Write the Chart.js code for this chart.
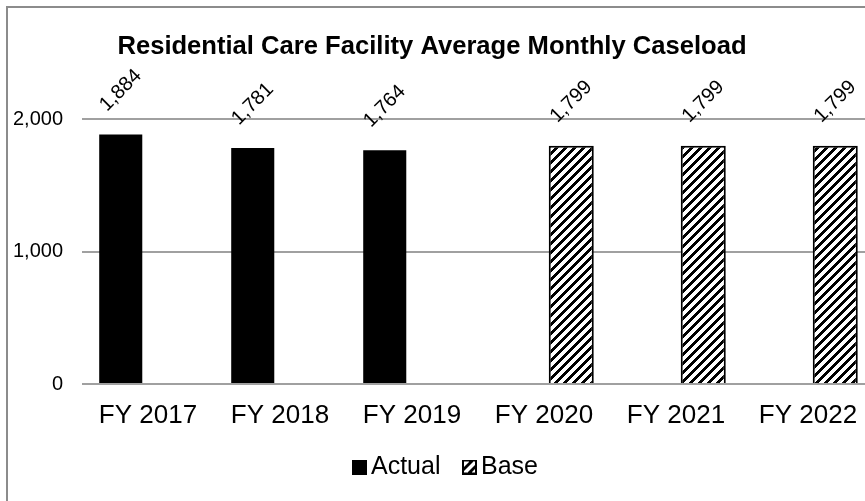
<!DOCTYPE html>
<html><head><meta charset="utf-8">
<script src="https://cdn.jsdelivr.net/npm/chart.js@4/dist/chart.umd.min.js"></script>
<style>
html,body{margin:0;padding:0;background:#fff;overflow:hidden;width:865px;height:501px;}
#wrap{position:absolute;left:0;top:0;width:880px;height:501px;}
#frame{position:absolute;left:6px;top:6px;width:900px;height:600px;border-left:2px solid #8c8c8c;border-top:2px solid #8c8c8c;pointer-events:none;}
</style></head><body>
<div id="wrap"><canvas id="c" width="880" height="501" style="width:880px;height:501px"></canvas></div>
<div id="frame"></div>
<script>
const chartTitle = 'Residential Care Facility Average Monthly Caseload';
const categories = ['FY 2017', 'FY 2018', 'FY 2019', 'FY 2020', 'FY 2021', 'FY 2022'];
const actualValues = [1884, 1781, 1764, null, null, null];
const baseValues = [null, null, null, 1799, 1799, 1799];
const yTickValues = [0, 1000, 2000];

const FONT = "'Liberation Sans', Arial, sans-serif";
const canvas = document.getElementById('c');
const ctx = canvas.getContext('2d');

function hatchTile() {
  const t = document.createElement('canvas');
  t.width = 9; t.height = 9;
  const g = t.getContext('2d');
  g.fillStyle = '#fff'; g.fillRect(0, 0, 9, 9);
  g.fillStyle = '#000';
  for (let y = 0; y < 9; y++) for (let x = 0; x < 9; x++) {
    if (((x + y) % 9) < 4) g.fillRect(x, y, 1, 1);
  }
  return t;
}
const tile = hatchTile();
const hatch = ctx.createPattern(tile, 'repeat');

function legendIcon(kind) {
  const c = document.createElement('canvas');
  c.width = 19; c.height = 15;
  const g = c.getContext('2d');
  g.translate(4, 0);
  if (kind === 'solid') {
    g.fillStyle = '#000'; g.fillRect(0, 0, 15, 15);
  } else {
    g.fillStyle = g.createPattern(tile, 'repeat');
    g.fillRect(0, 0, 15, 15);
    g.strokeStyle = '#000'; g.lineWidth = 2;
    g.strokeRect(1, 1, 13, 13);
  }
  return c;
}
const legendIcons = [legendIcon('solid'), legendIcon('hatch')];

const fmt = v => v.toLocaleString('en-US');

const labelPlugin = {
  id: 'rotLabels',
  afterDatasetsDraw(chart) {
    const c = chart.ctx;
    chart.data.datasets.forEach((ds, di) => {
      const meta = chart.getDatasetMeta(di);
      meta.data.forEach((el, i) => {
        const v = ds.data[i];
        if (v === null || v === undefined) return;
        c.save();
        c.translate(el.x, el.y - 44);
        c.rotate(-Math.PI / 4);
        c.font = '20px ' + FONT;
        c.fillStyle = '#000';
        c.textAlign = 'center';
        c.textBaseline = 'middle';
        c.fillText(fmt(v), 0, 0);
        c.restore();
      });
    });
  }
};

// nudge title / legend boxes to the reference positions
const placePlugin = {
  id: 'place',
  afterUpdate(chart) {
    const lg = chart.legend;
    if (lg && lg.legendHitBoxes && lg.legendHitBoxes.length) {
      const dx = 356.5 - lg.legendHitBoxes[0].left;
      const dy = 428.5 - lg.top;
      lg.left += dx; lg.right += dx; lg.top += dy; lg.bottom += dy;
      lg.legendHitBoxes.forEach(h => { h.left += dx; h.top += dy; });
    }
    const tb = chart.titleBlock;
    if (tb) {
      const dx = 432 - (tb.left + tb.right) / 2;
      tb.left += dx; tb.right += dx;
    }
  }
};

new Chart(ctx, {
  type: 'bar',
  data: {
    labels: categories,
    datasets: [
      { label: 'Actual', data: actualValues, backgroundColor: '#000', borderWidth: 0,
        categoryPercentage: 0.826, barPercentage: 0.79 },
      { label: 'Base', data: baseValues, backgroundColor: hatch, borderColor: '#000', borderWidth: 2,
        categoryPercentage: 0.826, barPercentage: 0.826 }
    ]
  },
  options: {
    responsive: false,
    animation: false,
    events: [],
    layout: { padding: { left: 0, right: 6, top: 0, bottom: 6 } },
    plugins: {
      title: {
        display: true, text: chartTitle, color: '#000',
        font: { family: FONT, size: 25.6, weight: 'bold' },
        padding: { top: 31.5, bottom: 56.8 }
      },
      legend: {
        position: 'bottom',
        labels: {
          color: '#000', font: { family: FONT, size: 25 },
          usePointStyle: true, boxWidth: 2, boxHeight: 15, padding: 26,
          generateLabels(chart) {
            const items = Chart.defaults.plugins.legend.labels.generateLabels(chart);
            items.forEach((it, i) => { it.pointStyle = legendIcons[i]; });
            return items;
          }
        }
      },
      tooltip: { enabled: false }
    },
    scales: {
      x: {
        grid: { display: false, drawTicks: false },
        border: { display: false },
        ticks: { color: '#000', font: { family: FONT, size: 26 }, padding: 16.4 },
        afterFit(s) { s.height = 50; }
      },
      y: {
        min: 0, max: 2000,
        afterBuildTicks(s) { s.ticks = yTickValues.map(v => ({ value: v })); },
        grid: { color: '#a0a0a0', lineWidth: 2, drawTicks: false },
        border: { display: false },
        ticks: { color: '#000', font: { family: FONT, size: 20 }, padding: 19, callback: v => fmt(v) },
        afterFit(s) { s.width = 82; }
      }
    }
  },
  plugins: [labelPlugin, placePlugin]
});
</script>
</body></html>
